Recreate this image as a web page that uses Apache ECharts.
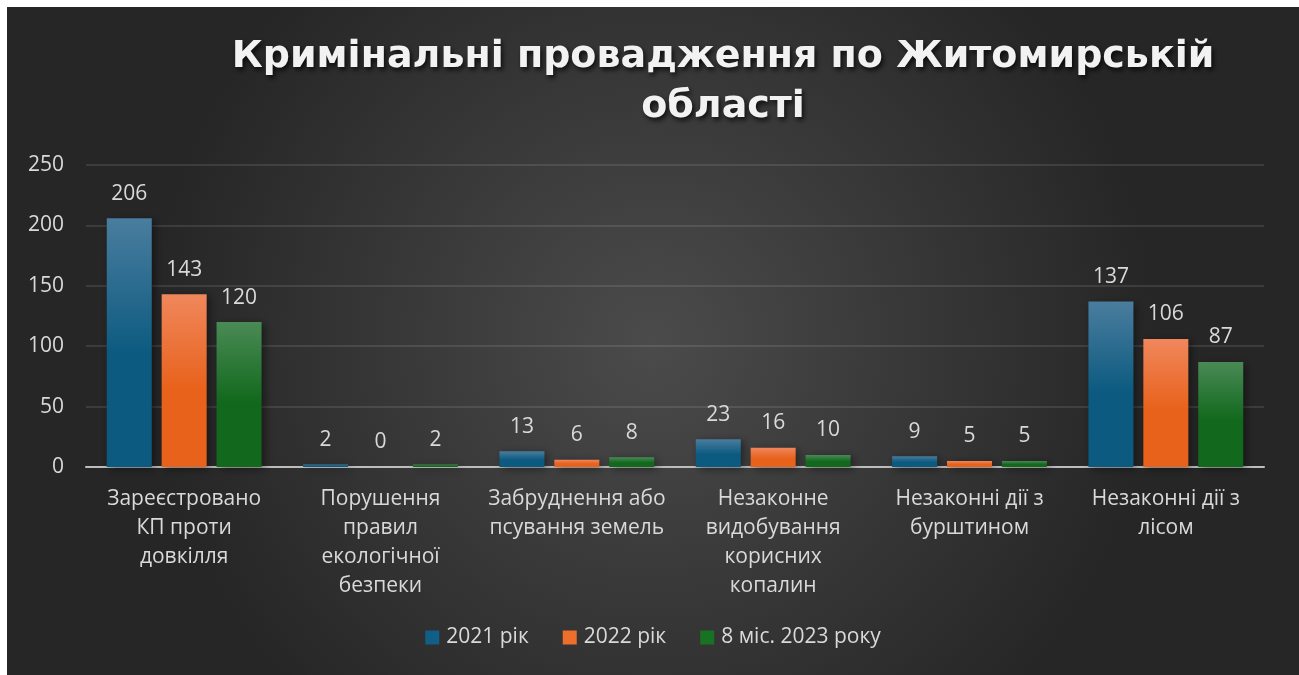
<!DOCTYPE html>
<html>
<head>
<meta charset="utf-8">
<script src="https://cdn.jsdelivr.net/npm/echarts@6/dist/echarts.min.js"></script>
<style>
  html, body { margin: 0; padding: 0; background: #ffffff; }
  #chart { position: absolute; left: 7px; top: 7px; width: 1292px; height: 668px; }
</style>
</head>
<body>
<div id="chart"></div>
<script>
const titleText = 'Кримінальні провадження по Житомирській\nобласті';
const categories = [
  'Зареєстровано\nКП проти\nдовкілля',
  'Порушення\nправил\nекологічної\nбезпеки',
  'Забруднення або\nпсування земель',
  'Незаконне\nвидобування\nкорисних\nкопалин',
  'Незаконні дії з\nбурштином',
  'Незаконні дії з\nлісом'
];
const seriesNames = ['2021 рік', '2022 рік', '8 міс. 2023 року'];
const values2021 = [206, 2, 13, 23, 9, 137];
const values2022 = [143, 0, 6, 16, 5, 106];
const values2023 = [120, 2, 8, 10, 5, 87];
const yTicks = { min: 0, max: 250, interval: 50 };

const FONT = '"Open Sans", sans-serif';
const LABEL = '#d9d9d9';

function grad(top, bottom) {
  return new echarts.graphic.LinearGradient(0, 0, 0, 1, [
    { offset: 0, color: top },
    { offset: 0.55, color: bottom },
    { offset: 1, color: bottom }
  ]);
}
const barColors = [
  ['#4a7d9e', '#0c5a80'],
  ['#f0875c', '#e8621c'],
  ['#4a8a55', '#12691d']
];
const legendColors = ['#115f87', '#ee6f2c', '#187223'];
const allValues = [values2021, values2022, values2023];

const chart = echarts.init(document.getElementById('chart'));
chart.setOption({
  backgroundColor: new echarts.graphic.RadialGradient(0.5, 0.5, 0.75, [
    { offset: 0, color: '#4b4b4b' },
    { offset: 1, color: '#262626' }
  ]),
  title: {
    text: titleText,
    left: 711,
    top: 20,
    textAlign: 'center',
    textStyle: {
      color: '#f2f2f2',
      fontFamily: '"DejaVu Sans", sans-serif',
      fontWeight: 'bold',
      fontSize: 38,
      lineHeight: 50,
      textShadowColor: 'rgba(0,0,0,0.75)',
      textShadowBlur: 5,
      textShadowOffsetX: 2,
      textShadowOffsetY: 3
    }
  },
  legend: {
    bottom: 22,
    left: 'center',
    itemWidth: 14,
    itemHeight: 14,
    itemGap: 34,
    icon: 'rect',
    textStyle: { color: LABEL, fontFamily: FONT, fontSize: 21, padding: [0, 0, 0, 2] },
    data: seriesNames.map((n, i) => ({ name: n, itemStyle: { color: legendColors[i] } }))
  },
  grid: { left: 79, right: 35, top: 158, bottom: 208, containLabel: false },
  xAxis: {
    type: 'category',
    data: categories,
    axisLine: { show: true, lineStyle: { color: '#bdbdbd', width: 2 } },
    axisTick: { show: false },
    axisLabel: {
      color: LABEL, fontFamily: FONT, fontSize: 21, lineHeight: 29,
      margin: 18, interval: 0
    }
  },
  yAxis: {
    type: 'value',
    min: yTicks.min, max: yTicks.max, interval: yTicks.interval,
    axisLine: { show: false },
    axisTick: { show: false },
    splitLine: { lineStyle: { color: 'rgba(255,255,255,0.10)', width: 2 } },
    axisLabel: { color: LABEL, fontFamily: FONT, fontSize: 21, margin: 22 }
  },
  series: seriesNames.map((name, i) => ({
    name: name,
    type: 'bar',
    data: allValues[i],
    barWidth: 45,
    barGap: '22%',
    itemStyle: {
      color: grad(barColors[i][0], barColors[i][1]),
      shadowColor: 'rgba(0,0,0,0.45)',
      shadowBlur: 8,
      shadowOffsetX: 3,
      shadowOffsetY: 2
    },
    label: {
      show: true,
      position: 'top',
      distance: 14,
      color: LABEL,
      fontFamily: FONT,
      fontSize: 21
    }
  }))
});
</script>
</body>
</html>
